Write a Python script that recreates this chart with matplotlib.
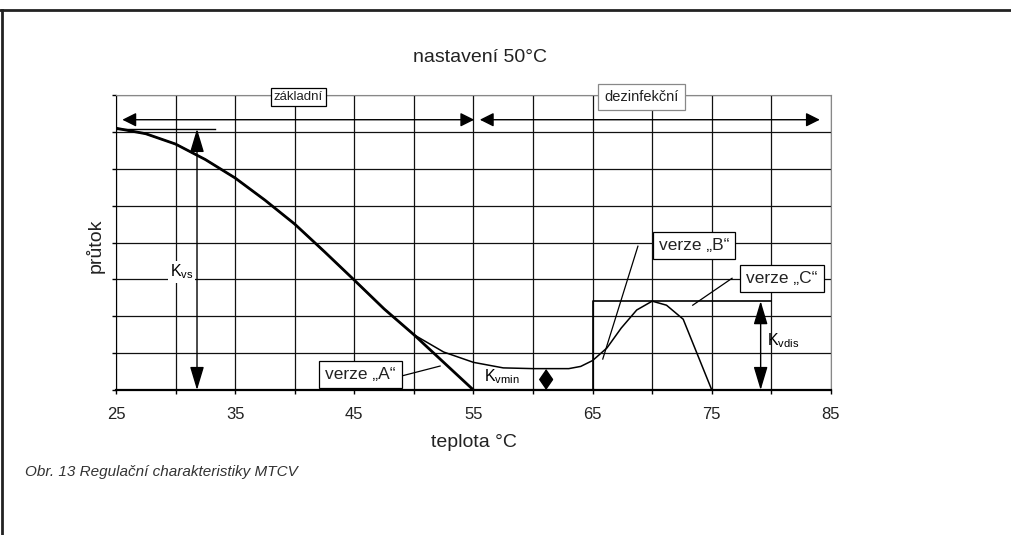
import matplotlib.pyplot as plt
from matplotlib.lines import Line2D

plt.rcParams['font.family'] = ['Liberation Sans', 'DejaVu Sans']
plt.rcParams['mathtext.default'] = 'regular'

# verze A - thick curve, ends at 55 °C
temp_a = [25, 27.5, 30, 32.5, 35, 37.5, 40, 42.5, 45, 47.5, 50, 52.5, 55]
flow_a = [7.1, 6.95, 6.67, 6.25, 5.75, 5.15, 4.5, 3.75, 2.98, 2.2, 1.5, 0.75, 0]

# verze B - thin curve with Kvmin plateau and disinfection hump
temp_b = [25, 27.5, 30, 32.5, 35, 37.5, 40, 42.5, 45, 47.5, 50, 52.5, 55, 57.5,
          60, 63, 64, 65, 66.2, 67.4, 68.7, 70, 71.2, 72.6, 75]
flow_b = [7.1, 6.95, 6.67, 6.25, 5.75, 5.15, 4.5, 3.75, 2.98, 2.2, 1.5, 1.03, 0.75, 0.6,
          0.58, 0.58, 0.64, 0.8, 1.14, 1.68, 2.17, 2.41, 2.3, 1.92, 0]

# verze C - step
temp_c = [55, 65, 65, 80]
flow_c = [0, 0, 2.41, 2.41]

kvs = 7.08
kvmin = 0.57
kvdis = 2.41

x_ticks = [25, 30, 35, 40, 45, 50, 55, 60, 65, 70, 75, 80, 85]
x_labels = ['25', '', '35', '', '45', '', '55', '', '65', '', '75', '', '85']

fig = plt.figure(figsize=(10.12, 5.35), dpi=100)
ax = fig.add_axes([0.1146, 0.271, 0.7065, 0.5514])

ax.set_xlim(25, 85)
ax.set_ylim(0, 8)
ax.set_xticks(x_ticks)
ax.set_xticklabels(x_labels, fontsize=12, color='#222222')
ax.set_yticks(range(0, 9))
ax.set_yticklabels([])
ax.tick_params(direction='out', length=3, width=1, pad=9)
ax.grid(True, color='#111111', lw=0.9)
ax.set_axisbelow(True)
for s in ['top', 'right']:
    ax.spines[s].set_color('#888888')
ax.spines['bottom'].set_linewidth(1.6)

ax.plot(temp_b, flow_b, color='black', lw=1.1)
ax.plot(temp_a, flow_a, color='black', lw=2.0)
ax.plot(temp_c, flow_c, color='black', lw=1.2)
ax.plot([55, 65], [0, 0], color='black', lw=2.2)

# top range arrows
arr = dict(arrowstyle='<|-|>', color='black', lw=1, mutation_scale=21)
ax.annotate('', xy=(25.3, 7.33), xytext=(55.3, 7.33), arrowprops=arr, annotation_clip=False)
ax.annotate('', xy=(55.3, 7.33), xytext=(84.3, 7.33), arrowprops=arr, annotation_clip=False)
ax.text(40.3, 7.95, 'základní', fontsize=9.5, ha='center', va='center', color='#222222',
        bbox=dict(boxstyle='square,pad=0.22', fc='white', ec='black', lw=0.9))
ax.text(69.1, 7.95, 'dezinfekční', fontsize=10.5, ha='center', va='center', color='#222222',
        bbox=dict(boxstyle='square,pad=0.4', fc='white', ec='#888888', lw=0.9))

# vertical dimension arrows
varr = dict(arrowstyle='<|-|>,head_length=0.6,head_width=0.18', color='black',
            lw=1, mutation_scale=24, shrinkA=0, shrinkB=0)

# Kvs
ax.plot([25, 33.3], [kvs, kvs], color='black', lw=1)
ax.annotate('', xy=(31.8, 0), xytext=(31.8, kvs), arrowprops=varr)
ax.text(30.5, 3.2, r'K$_{vs}$', fontsize=11.5, ha='center', va='center',
        bbox=dict(boxstyle='square,pad=0.1', fc='white', ec='none'))

# Kvmin
ax.annotate('', xy=(61.1, 0), xytext=(61.1, kvmin),
            arrowprops=dict(arrowstyle='<|-|>,head_length=0.55,head_width=0.38', color='black',
                            lw=1, mutation_scale=12, shrinkA=0, shrinkB=0))
ax.text(57.4, 0.35, r'K$_{vmin}$', fontsize=11.5, ha='center', va='center')

# Kvdis
ax.annotate('', xy=(79.1, 0), xytext=(79.1, kvdis), arrowprops=varr)
ax.text(79.6, 1.35, r'K$_{vdis}$', fontsize=11.5, ha='left', va='center')

# version labels with leaders
box = dict(boxstyle='square,pad=0.35', fc='white', ec='black', lw=0.9)
ax.plot([48.6, 52.2], [0.35, 0.65], color='black', lw=0.9)
ax.text(45.5, 0.41, 'verze „A“', fontsize=12.5, ha='center', va='center', color='#222222', bbox=box)
ax.plot([68.8, 65.85], [3.9, 0.84], color='black', lw=0.9)
ax.text(73.5, 3.93, 'verze „B“', fontsize=12.5, ha='center', va='center', color='#222222', bbox=box)
ax.plot([76.7, 73.4], [3.03, 2.3], color='black', lw=0.9)
ax.text(80.9, 3.03, 'verze „C“', fontsize=12.5, ha='center', va='center', color='#222222', bbox=box)

ax.set_xlabel('teplota °C', fontsize=14, color='#222222', va='top')
ax.xaxis.set_label_coords(0.5, -0.15)
ax.set_ylabel('průtok', fontsize=14, color='#222222')
ax.yaxis.set_label_coords(-0.016, 0.49)

fig.text(480 / 1012, 1 - 58 / 535, 'nastavení 50°C', fontsize=14, ha='center', va='center', color='#222222')
fig.text(25 / 1012, 1 - 472 / 535, 'Obr. 13 Regulační charakteristiky MTCV', fontsize=11,
         style='italic', ha='left', va='center', color='#333333')

# page frame
fig.add_artist(Line2D([0, 1], [0.981, 0.981], color='#222222', lw=2))
fig.add_artist(Line2D([0.002, 0.002], [0, 0.981], color='#222222', lw=2))

fig.savefig('out.png', dpi=100)
